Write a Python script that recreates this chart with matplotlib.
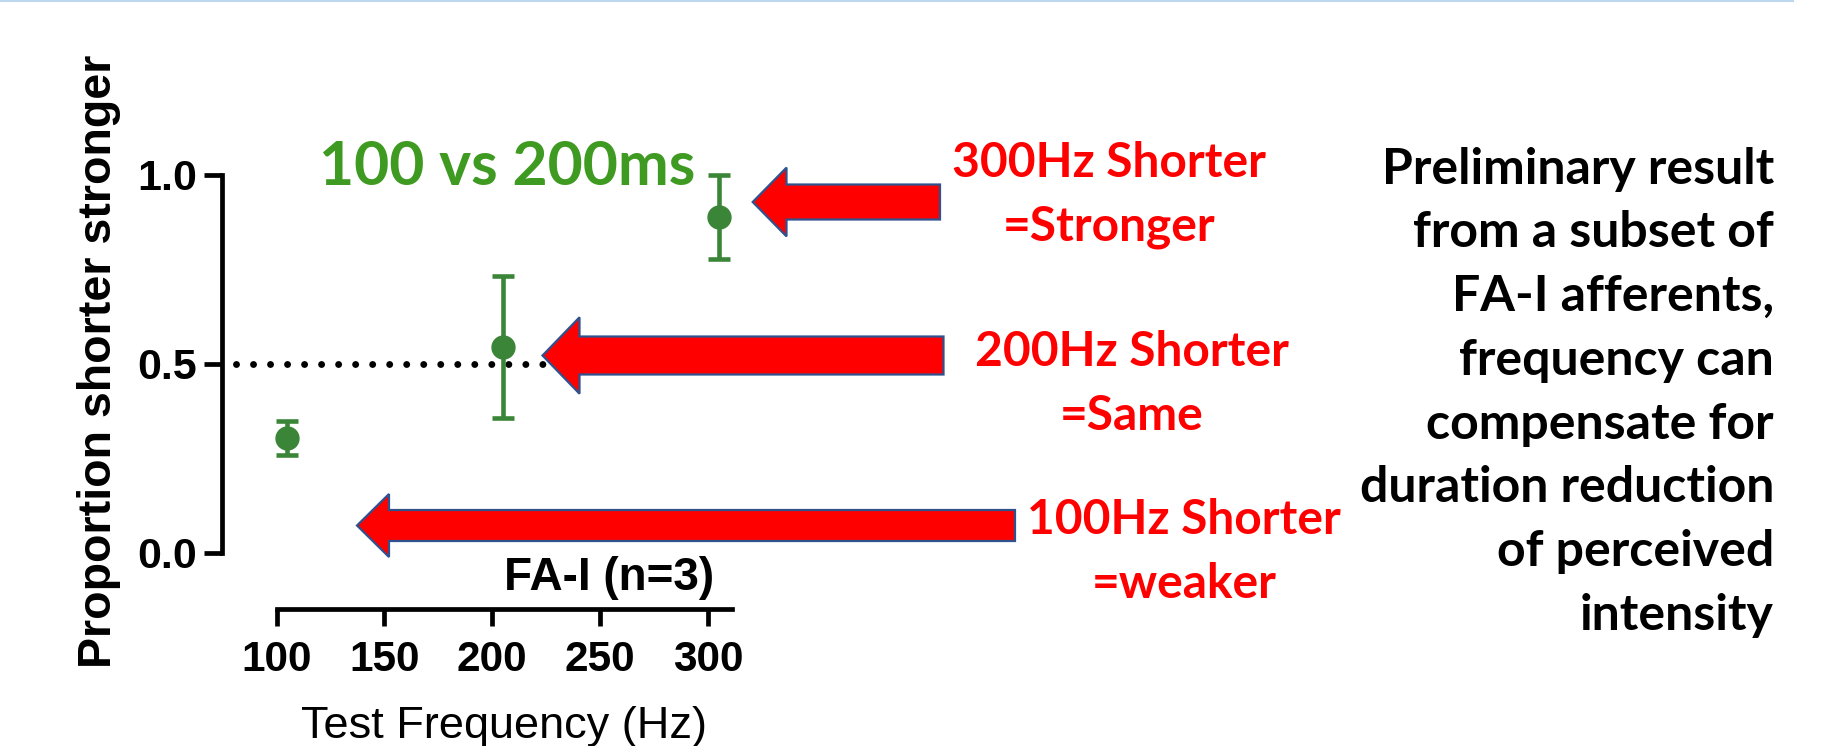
import matplotlib
matplotlib.use("Agg")
import matplotlib.pyplot as plt
from matplotlib.patches import Polygon
from matplotlib.lines import Line2D

# data
freq = [105, 205, 305]
prop = [0.305, 0.544, 0.888]
sem = [0.045, 0.188, 0.112]
chance = 0.5
xticks = [100, 150, 200, 250, 300]
yticks = [0.0, 0.5, 1.0]
ytick_labels = ["0.0", "0.5", "1.0"]

red_labels = [("300Hz Shorter", "=Stronger"),
              ("200Hz Shorter", "=Same"),
              ("100Hz Shorter", "=weaker")]
note_lines = ["Preliminary result", "from a subset of", "FA-I afferents,",
              "frequency can", "compensate for", "duration reduction",
              "of perceived", "intensity"]

W, H = 1833, 746
GREEN = "#3b8538"
TITLE_GREEN = "#3f9a22"
RED = "#ff0000"
EDGE = "#2f528f"
CAL = "Lato"
ARIAL = "Liberation Sans"

fig = plt.figure(figsize=(W / 100, H / 100), dpi=100)


def fx(x):
    return x / W


def fy(y):
    return 1 - y / H


ax = fig.add_axes([fx(222), fy(609), (760 - 222) / W, (609 - 174.6) / H])
ax.set_xlim(74.7, 324.1)
ax.set_ylim(-0.148, 1.0)

ax.plot([81, 300], [chance, chance], color="black", lw=5,
        linestyle=(0, (0.001, 2.45)), dash_capstyle="round", zorder=1)
ax.errorbar(freq, prop, yerr=sem, fmt="o", color=GREEN, ms=16.5,
            elinewidth=3.3, capsize=8, capthick=3.3, clip_on=False, zorder=3)

for s in ["top", "right"]:
    ax.spines[s].set_visible(False)
ax.spines["left"].set_bounds(0, 1)
ax.spines["bottom"].set_bounds(100, 311)
for s in ["left", "bottom"]:
    ax.spines[s].set_linewidth(3.4)
ax.set_xticks(xticks)
ax.set_xticklabels([str(t) for t in xticks], fontsize=30.5, fontweight="bold",
                   family=ARIAL)
ax.set_yticks(yticks)
ax.set_yticklabels(ytick_labels, fontsize=31, fontweight="bold", family=ARIAL)
ax.tick_params(axis="y", length=13, width=3.4, pad=5)
ax.tick_params(axis="x", length=12, width=3.4, pad=10)
ax.patch.set_alpha(0)

fig.text(fx(99), fy(361), "Proportion shorter stronger", rotation=90,
         ha="center", va="center", fontsize=33.5, fontweight="bold", family=ARIAL)
fig.text(fx(504), fy(738), "Test Frequency (Hz)", ha="center", va="baseline",
         fontsize=32.5, family=ARIAL)
fig.text(fx(714), fy(590), "FA-I (n=3)", ha="right", va="baseline",
         fontsize=33, fontweight="bold", family=ARIAL)
fig.text(fx(319), fy(185), "100 vs 200ms", ha="left", va="baseline",
         fontsize=43.7, fontweight="bold", family=CAL, color=TITLE_GREEN)

# arrows: tip x, head base x, tail x, centre y, body half height, head half height
arrows = [(752.7, 786.5, 940, 202, 17.5, 34.4),
          (542.5, 579.5, 943.5, 355.5, 19, 38.2),
          (357, 389, 1015, 525.5, 15.5, 31.5)]
for tip, base, tail, cy, bh, hh in arrows:
    pts = [(tip, cy), (base, cy - hh), (base, cy - bh), (tail, cy - bh),
           (tail, cy + bh), (base, cy + bh), (base, cy + hh)]
    fig.patches.append(Polygon([(fx(px), fy(py)) for px, py in pts],
                               closed=True, transform=fig.transFigure,
                               facecolor=RED, edgecolor=EDGE, lw=1.6,
                               joinstyle="miter", zorder=5))

red_pos = [(1109, 177), (1132, 365.7), (1184, 534)]
for (l1, l2), (cx, by) in zip(red_labels, red_pos):
    for i, line in enumerate([l1, l2]):
        fig.text(fx(cx), fy(by + i * 63.8), line, ha="center", va="baseline",
                 fontsize=34.5, fontweight="bold", family=CAL, color=RED)

for i, line in enumerate(note_lines):
    fig.text(fx(1774), fy(183.5 + i * 63.8), line, ha="right", va="baseline",
             fontsize=36, fontweight="bold", family=CAL, color="black")

fig.lines.append(Line2D([0, fx(1793)], [fy(1), fy(1)], transform=fig.transFigure,
                        color="#bdd7ee", lw=1.5))

fig.savefig("out.png", dpi=100)
